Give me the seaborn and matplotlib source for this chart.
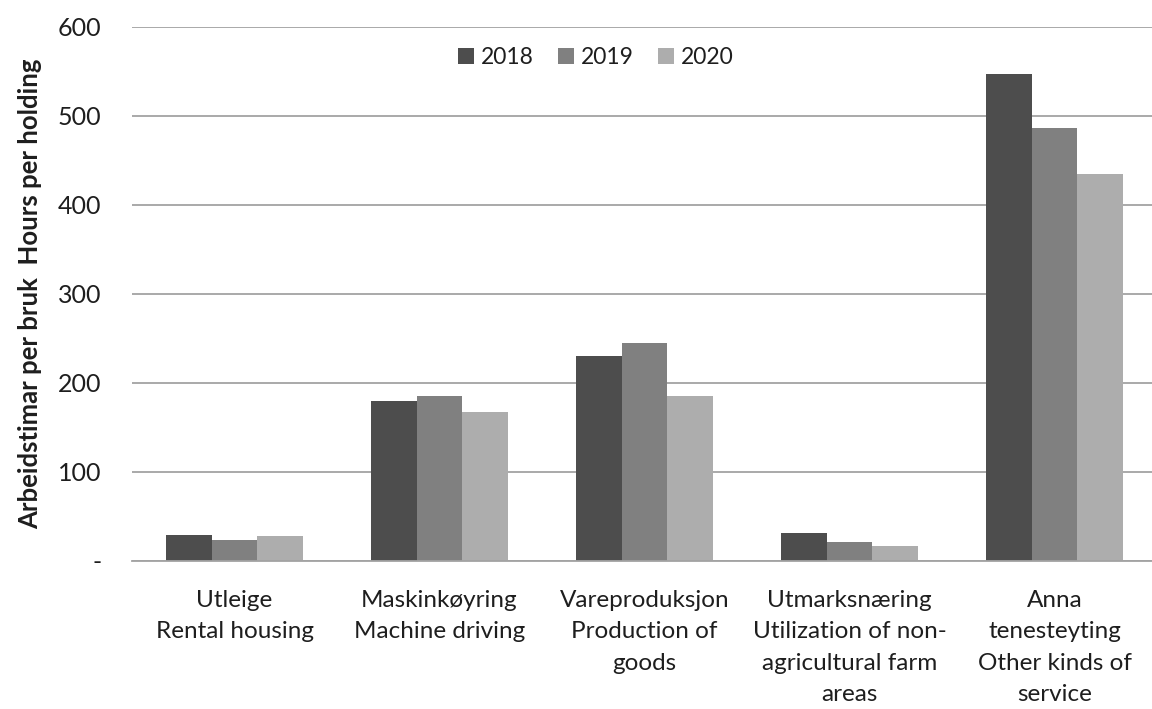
import pandas as pd
import seaborn as sns
import matplotlib.pyplot as plt
from matplotlib.ticker import FixedLocator, FuncFormatter

# Values
categories = [
    "Utleige\nRental housing",
    "Maskinkøyring\nMachine driving",
    "Vareproduksjon\nProduction of\ngoods",
    "Utmarksnæring\nUtilization of non-\nagricultural farm\nareas",
    "Anna\ntenesteyting\nOther kinds of\nservice",
]
years = ["2018", "2019", "2020"]
hours_2018 = [29, 179, 230, 31, 547]
hours_2019 = [23, 185, 244, 21, 486]
hours_2020 = [28, 167, 185, 16, 434]
colors = ["#4d4d4d", "#808080", "#adadad"]

# Long format for seaborn
rows = []
for year, vals in zip(years, [hours_2018, hours_2019, hours_2020]):
    for cat, v in zip(categories, vals):
        rows.append({"category": cat, "year": year, "hours": v})
df = pd.DataFrame(rows)

sns.set_style("white")
plt.rcParams["font.family"] = ["Lato", "DejaVu Sans"]
text_color = "#1e1e1e"
grid_color = "#a3a3a3"

fig = plt.figure(figsize=(11.52, 7.09), dpi=100)
# axes runs a little past the right edge, like the original
ax = fig.add_axes([0.1146, 0.2094, 0.8898, 0.7532])

sns.barplot(data=df, x="category", y="hours", hue="year", order=categories,
            hue_order=years, palette=dict(zip(years, colors)), width=0.665,
            gap=0, saturation=1, edgecolor="none", errorbar=None, ax=ax)

ax.set_ylim(0, 600)
ax.set_xlim(-0.5, len(categories) - 0.5)
ax.set_yticks(range(0, 601, 100))
ax.yaxis.set_major_formatter(FuncFormatter(lambda v, p: "-" if v == 0 else f"{int(v)}"))
ax.yaxis.grid(True, color=grid_color, linewidth=1.3)
ax.set_axisbelow(True)

for side in ["left", "right", "top"]:
    ax.spines[side].set_visible(False)
ax.spines["bottom"].set_color(grid_color)
ax.spines["bottom"].set_linewidth(1.3)

ax.set_xticks(range(len(categories)), categories, linespacing=1.62)
ax.tick_params(axis="y", length=0, labelsize=18, pad=22, colors=text_color)
ax.tick_params(axis="x", which="major", length=0, labelsize=17.5, pad=21,
               colors=text_color)
ax.xaxis.set_minor_locator(FixedLocator([i - 0.5 for i in range(len(categories) + 1)]))
ax.tick_params(axis="x", which="minor", length=7.5, width=1.3, color=grid_color,
               direction="out")

ax.set_xlabel("")
ax.set_ylabel("Arbeidstimar per bruk  Hours per holding", fontsize=18.5,
              fontweight="bold", color=text_color, labelpad=11)

ax.legend(title=None, ncol=3, frameon=False, loc="center",
          bbox_to_anchor=(0.4527, 0.942), fontsize=16.5, handlelength=0.7,
          handleheight=0.7, handletextpad=0.3, columnspacing=1.05)
for t in ax.get_legend().get_texts():
    t.set_color(text_color)

plt.savefig("out.png", dpi=100)
